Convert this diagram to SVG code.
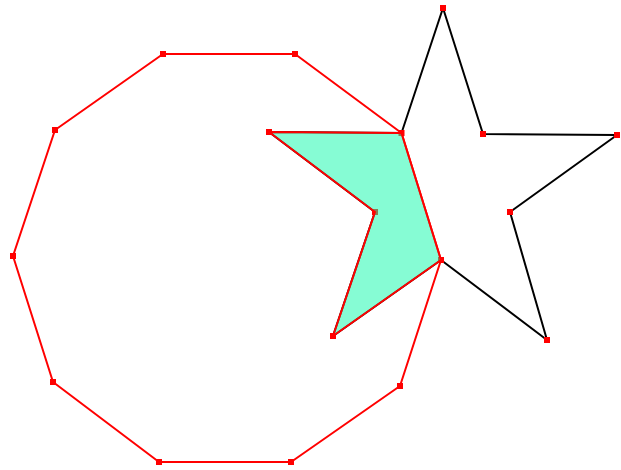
<svg xmlns="http://www.w3.org/2000/svg" width="621" height="470" viewBox="0 0 621 470">
<defs>
<style>
.deca{fill:none;stroke:#ff0000;stroke-width:2;stroke-linejoin:round}
.star{fill:none;stroke:#000000;stroke-width:2;stroke-linejoin:round}
.inter{fill:#0df9a9;fill-opacity:0.5;stroke:#ff0000;stroke-width:2;stroke-linejoin:round}
.mk{fill:#ff0000}
</style>
<rect id="m" class="mk" x="-3" y="-3" width="6" height="6"/>
</defs>
<rect width="621" height="470" fill="#ffffff"/>
<g id="connectors">
<polygon id="decagon" class="deca" points="163,54 295,54 401.5,133 441,260 400,386 291,462 159,462 53,382 13,256 55,130"/>
<polygon id="star" class="star" points="443,8 483,134 617,135 510,212 547,340 441,260 333,336 375,212 269,132 401.5,133"/>
</g>
<g id="vertices">
<use href="#m" x="163" y="54"/>
<use href="#m" x="295" y="54"/>
<use href="#m" x="401.5" y="133"/>
<use href="#m" x="441" y="260"/>
<use href="#m" x="400" y="386"/>
<use href="#m" x="291" y="462"/>
<use href="#m" x="159" y="462"/>
<use href="#m" x="53" y="382"/>
<use href="#m" x="13" y="256"/>
<use href="#m" x="55" y="130"/>
<use href="#m" x="443" y="8"/>
<use href="#m" x="483" y="134"/>
<use href="#m" x="617" y="135"/>
<use href="#m" x="510" y="212"/>
<use href="#m" x="547" y="340"/>
<use href="#m" x="333" y="336"/>
<use href="#m" x="375" y="212"/>
<use href="#m" x="269" y="132"/>
</g>
<g id="intersection">
<polygon class="inter" points="269,132 401.5,133 441,260 333,336 375,212"/>
</g>
</svg>
